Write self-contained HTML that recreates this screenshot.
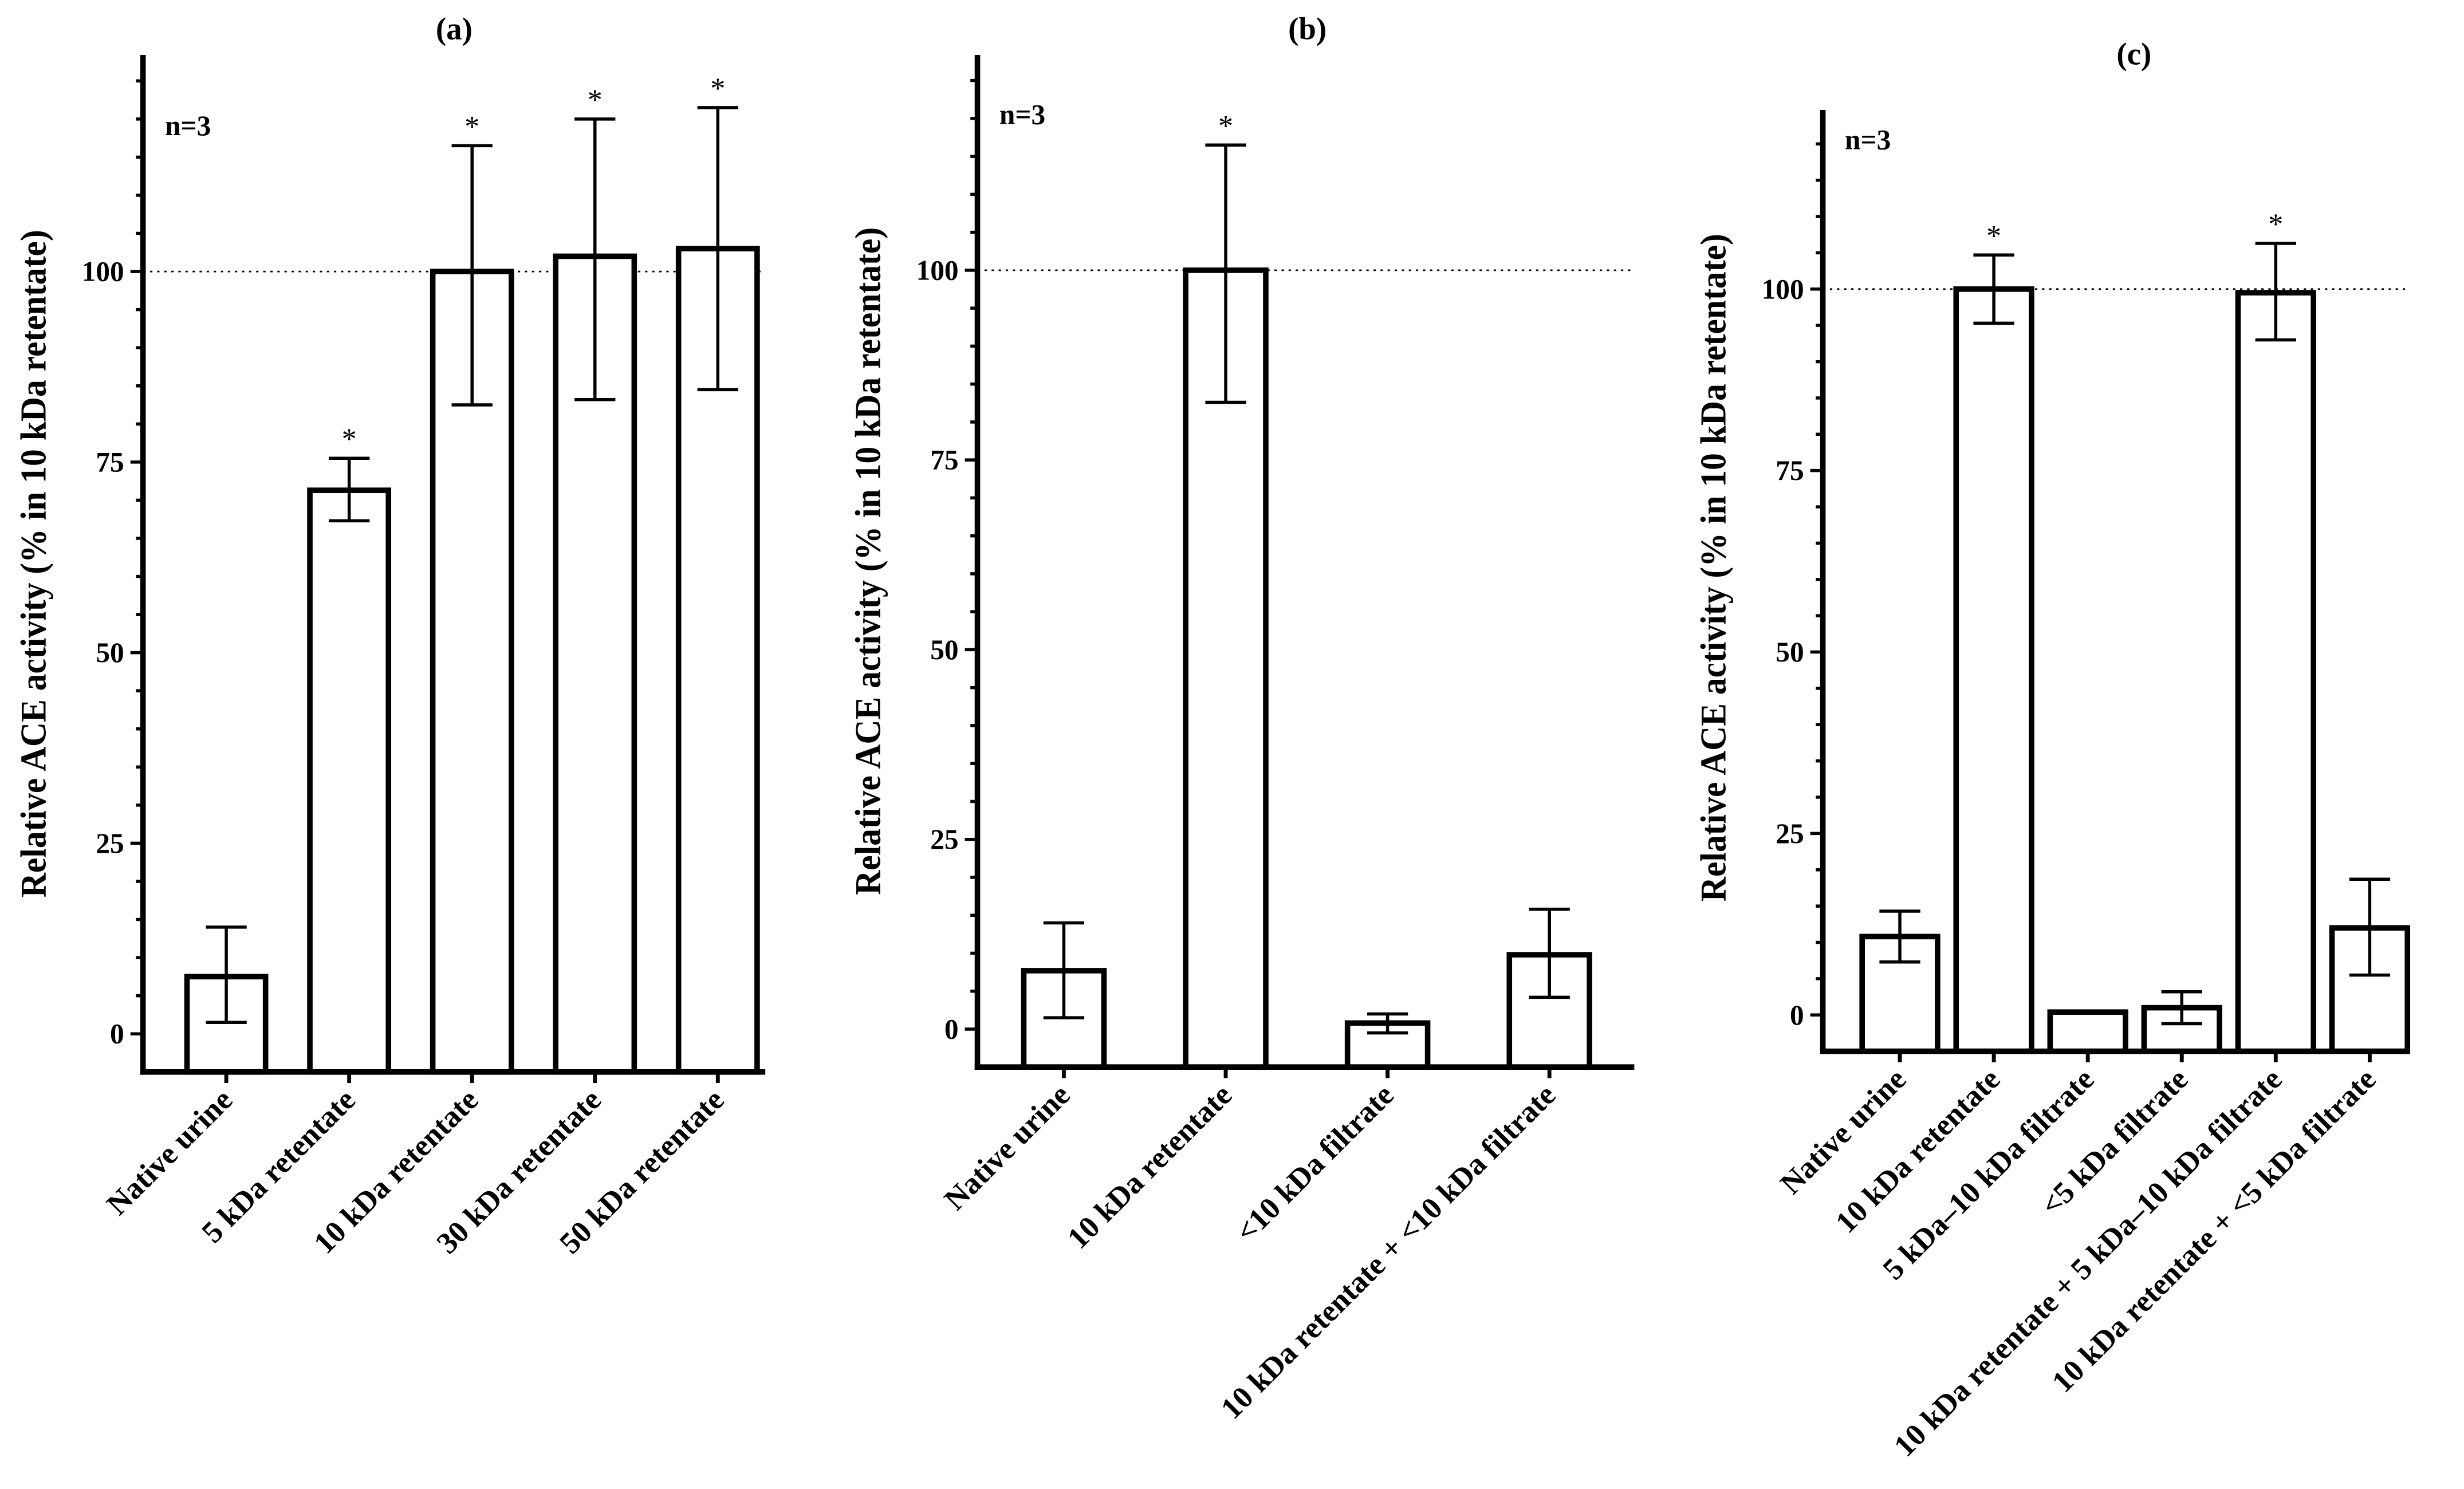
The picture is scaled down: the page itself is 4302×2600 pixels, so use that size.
<!DOCTYPE html>
<html><head><meta charset="utf-8"><style>html,body{margin:0;padding:0;background:#fff;}svg{display:block;}</style></head>
<body>
<svg id="fig" width="4302" height="2600" viewBox="0 0 1568 947.7" preserveAspectRatio="none" xmlns="http://www.w3.org/2000/svg" font-family="'Liberation Serif', serif" font-weight="bold"></svg>
<script>
// Panel (a)
const catsA = ["Native urine","5 kDa retentate","10 kDa retentate","30 kDa retentate","50 kDa retentate"];
const valsA = [7.5, 71.3, 100, 102, 103];
const lowA  = [1.5, 67.3, 82.5, 83.2, 84.5];
const highA = [14, 75.5, 116.5, 120, 121.5];
const starA = [false, true, true, true, true];
// Panel (b)
const catsB = ["Native urine","10 kDa retentate","<10 kDa filtrate","10 kDa retentate + <10 kDa filtrate"];
const valsB = [7.7, 100, 0.8, 9.8];
const lowB  = [1.5, 82.6, -0.5, 4.2];
const highB = [14, 116.5, 2, 15.8];
const starB = [false, true, false, false];
// Panel (c)
const catsC = ["Native urine","10 kDa retentate","5 kDa–10 kDa filtrate","<5 kDa filtrate","10 kDa retentate + 5 kDa–10 kDa filtrate","10 kDa retentate + <5 kDa filtrate"];
const valsC = [10.8, 100, 0.4, 1.0, 99.5, 12];
const lowC  = [7.3, 95.3, 0.4, -1.2, 93, 5.5];
const highC = [14.3, 104.7, 0.4, 3.2, 106.3, 18.7];
const starC = [false, true, false, false, true, false];
const yTicks = [0, 25, 50, 75, 100];

const svg = document.getElementById('fig');
const NS = 'http://www.w3.org/2000/svg';
function mk(tag, attrs, parent){
  const e = document.createElementNS(NS, tag);
  for (const k in attrs) e.setAttribute(k, attrs[k]);
  (parent||svg).appendChild(e);
  return e;
}
function panel(cfg, cats, vals, low, high, star){
  const g = mk('g', {});
  
  
  const y = v => cfg.y0 - v * cfg.ppu;
  const x = i => cfg.x1 + i * cfg.step;
  const yTop = cfg.yTop, yBot = y(-5);
  const dl = mk('line', {x1: cfg.ax, x2: cfg.axEnd, y1: y(100), y2: y(100), stroke: '#000', 'stroke-width': 1, 'stroke-dasharray': '1.5,3'}, g);
  
  
  vals.forEach((v, i) => {
    const cx = x(i), w = cfg.bw;
    const top = Math.min(y(v), y(0));
    const r = mk('rect', {x: cx - w/2, y: top, width: w, height: yBot - top, fill: '#fff', stroke: '#000', 'stroke-width': 3.5}, g);
    
    
    const eg = mk('g', {stroke: '#000', 'stroke-width': 2}, g);
    
    
    if (high[i] !== low[i]) {
      mk('line', {x1: cx, x2: cx, y1: y(high[i]), y2: y(low[i])}, eg);
      mk('line', {x1: cx - 13, x2: cx + 13, y1: y(high[i]), y2: y(high[i])}, eg);
      mk('line', {x1: cx - 13, x2: cx + 13, y1: y(low[i]), y2: y(low[i])}, eg);
    }
    if (star[i]) {
      const s = mk('text', {x: cx, y: y(high[i]) - 6, 'text-anchor': 'middle', 'font-size': 19, 'font-weight': 'normal'}, g);
      s.textContent = '*';
      
      
    }
    mk('line', {x1: cx, x2: cx, y1: yBot, y2: yBot + 7, stroke: '#000', 'stroke-width': 2.5}, g);
    const lx = cx + 5, ly = yBot + 19;
    const t = mk('text', {x: lx, y: ly, 'text-anchor': 'end', 'font-size': 19.5, transform: `rotate(-45 ${lx} ${ly})`}, g);
    t.textContent = cats[i];
    
    
  });
  const ya = mk('line', {x1: cfg.ax, x2: cfg.ax, y1: yTop, y2: yBot + 1.75, stroke: '#000', 'stroke-width': 3.5}, g);
  
  
  const xa = mk('line', {x1: cfg.ax - 1.75, x2: cfg.axEnd, y1: yBot, y2: yBot, stroke: '#000', 'stroke-width': 3.5}, g);
  
  
  for (let v = 0; y(v) >= yTop; v += 5) {
    const major = yTicks.includes(v);
    mk('line', {x1: cfg.ax - (major ? 8 : 4.5), x2: cfg.ax, y1: y(v), y2: y(v), stroke: '#000', 'stroke-width': 2}, g);
  }
  yTicks.forEach(v => {
    const t = mk('text', {x: cfg.ax - 12, y: y(v) + 6, 'text-anchor': 'end', 'font-size': 18}, g);
    t.textContent = v;
    
    
  });
  const lx = cfg.ax - 62, ly = (y(0) + y(125)) / 2 + 4;
  const yl = mk('text', {x: lx, y: ly, 'text-anchor': 'middle', 'font-size': 23, textLength: 425, lengthAdjust: 'spacingAndGlyphs', transform: `rotate(-90 ${lx} ${ly})`}, g);
  yl.textContent = 'Relative ACE activity (% in 10 kDa retentate)';
  
  
  const tt = mk('text', {x: cfg.tx, y: cfg.ty, 'text-anchor': 'middle', 'font-size': 20}, g);
  tt.textContent = '(' + cfg.id + ')';
  
  
  const n = mk('text', {x: cfg.ax + 14, y: cfg.ny, 'font-size': 18}, g);
  n.textContent = 'n=3';
  
  
}
panel({id:'a', ax:91, axEnd:487, y0:658, ppu:4.852, yTop:35, x1:144, step:78.2, bw:50, tx:289, ty:25, ny:86}, catsA, valsA, lowA, highA, starA);
panel({id:'b', ax:622, axEnd:1040, y0:655, ppu:4.83, yTop:35, x1:677, step:103, bw:51, tx:832, ty:25, ny:79}, catsB, valsB, lowB, highB, starB);
panel({id:'c', ax:1160, axEnd:1532, y0:646, ppu:4.62, yTop:70, x1:1209, step:59.8, bw:48, tx:1358, ty:41, ny:95}, catsC, valsC, lowC, highC, starC);
</script>
</body></html>
